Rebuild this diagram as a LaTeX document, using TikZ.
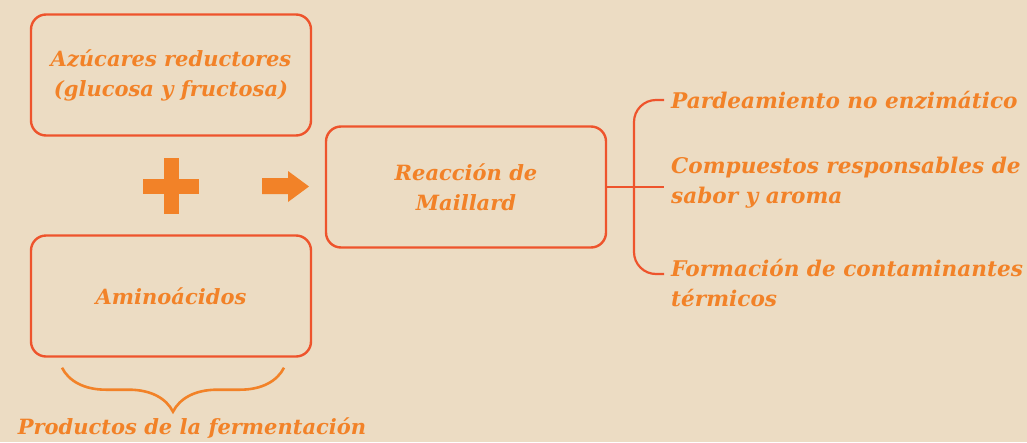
\documentclass[tikz,border=0pt]{standalone}
\usepackage{fontspec}
\setmainfont{DejaVu Serif}
\usetikzlibrary{positioning, decorations.pathreplacing}
\definecolor{color1}{RGB}{236,220,195}
\definecolor{color2}{RGB}{238,84,44}
\definecolor{color3}{RGB}{242,130,40}

\begin{document}
\begin{tikzpicture}[x=1pt,y=-1pt,
		caja/.style={draw=color2, line width=2.4pt, rounded corners=15pt, minimum width=280pt, minimum height=121pt, align=center, text=color3, font=\fontsize{21}{30}\selectfont\bfseries\itshape},
		efecto/.style={anchor=west, inner xsep=7pt, inner ysep=0pt, align=left, text=color3, font=\fontsize{21.6}{30}\selectfont\bfseries\itshape},
		rama/.style={draw=color2, line width=2.2pt},
		simbolo/.style={fill=color3, inner sep=0pt}]
		\fill[color1] (0,0) rectangle (1027,442);
		\useasboundingbox (0,0) rectangle (1027,442);
		
		\node[caja] (azucares) at (171,75) {Azúcares reductores\\(glucosa y fructosa)};
		\node[caja] (aminoacidos) at (171,296) {Aminoácidos};
		\node[caja] (maillard) at (466,187) {Reacción de\\Maillard};
		
		\node[simbolo, minimum width=56pt, minimum height=15pt] (mas) at (171,186) {};
		\node[simbolo, minimum width=15pt, minimum height=56pt] at (mas) {};
		\fill[color3] (262,178) -- (288,178) -- (288,171) -- (309,186.5) -- (288,202) -- (288,194) -- (262,194) -- cycle;
		
		\node[efecto] (pardeamiento) at (664,100) {Pardeamiento no enzimático};
		\node[efecto] (compuestos) at (664,183) {Compuestos responsables de\\sabor y aroma};
		\node[efecto, anchor=north west] (formacion) at (664,259) {Formación de contaminantes\\térmicos};
		
		\coordinate (horquilla) at (634,187);
		\draw[rama] (maillard.east |- horquilla) -- (compuestos.west |- horquilla);
		\draw[rama, rounded corners=22pt] (pardeamiento.west) -| (horquilla) |- ([yshift=-15pt]formacion.north west);
		
		\draw[color3, line width=2.6pt, decorate, decoration={brace, mirror, amplitude=44pt, aspect=0.5}] ([xshift=-109pt, yshift=-10pt]aminoacidos.south) -- ([xshift=113pt, yshift=-10pt]aminoacidos.south) node[midway, below=45pt, xshift=19pt, inner xsep=0pt, text=color3, font=\fontsize{21}{24}\selectfont\bfseries\itshape] (productos) {Productos de la fermentación};
\end{tikzpicture}
\end{document}
